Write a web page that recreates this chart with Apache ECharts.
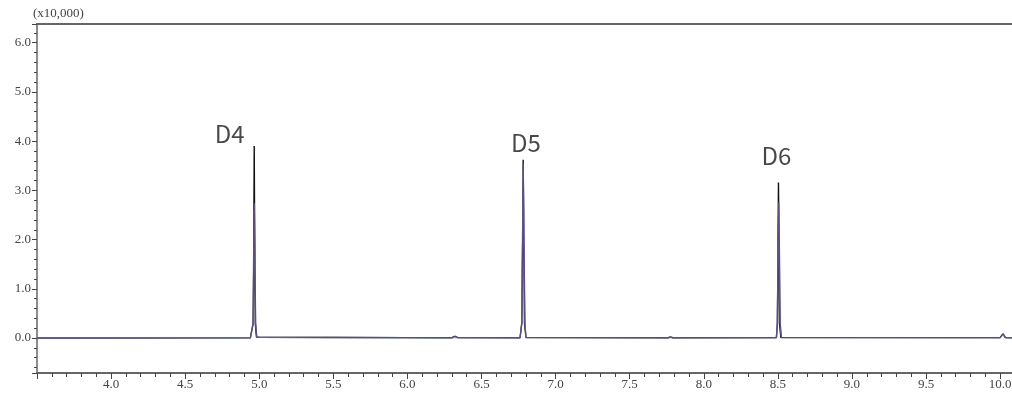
<!DOCTYPE html>
<html><head><meta charset="utf-8">
<script src="https://cdn.jsdelivr.net/npm/echarts@6/dist/echarts.min.js"></script>
<style>html,body{margin:0;padding:0;background:#fff}#c{width:1012px;height:397px}</style>
</head><body><div id="c"></div>
<script>
// Retention time (min) vs intensity (x10,000)
const traceBlack = [
  [3.5,0],[4.94,0.005],[4.953,0.01],[4.959,0.3],[4.963,2.0],[4.966,3.9],[4.969,2.0],[4.973,0.3],[4.981,0.02],[5.0,0.015],
  [5.5,0.012],[6.0,0.008],[6.30,0.006],[6.32,0.03],[6.34,0.008],[6.76,0.006],[6.772,0.3],[6.777,2.0],[6.781,3.62],[6.785,2.0],[6.790,0.3],[6.80,0.01],
  [7.76,0.006],[7.775,0.02],[7.79,0.006],[8.49,0.008],[8.497,0.3],[8.501,2.0],[8.504,3.16],[8.507,2.0],[8.511,0.3],[8.52,0.01],
  [10.0,0.008],[10.018,0.08],[10.035,0.008],[10.08,0.005]
];
const traceBlue = [
  [3.5,0],[4.94,0.004],[4.951,0.01],[4.958,0.3],[4.964,1.8],[4.967,2.6],[4.970,1.8],[4.976,0.3],[4.984,0.02],[5.0,0.012],
  [6.0,0.006],[6.76,0.005],[6.770,0.3],[6.777,2.0],[6.782,3.4],[6.787,2.0],[6.794,0.3],[6.80,0.01],
  [8.49,0.006],[8.495,0.3],[8.502,1.8],[8.506,2.6],[8.510,1.8],[8.516,0.3],[8.524,0.01],
  [10.0,0.006],[10.02,0.06],[10.037,0.006],[10.08,0.004]
];
const tracePurple = [
  [3.5,0],[4.94,0.006],[4.952,0.012],[4.958,0.3],[4.964,2.0],[4.967,2.74],[4.970,2.0],[4.976,0.3],[4.984,0.02],[5.0,0.016],
  [5.5,0.014],[6.0,0.01],[6.30,0.01],[6.32,0.04],[6.34,0.01],[6.76,0.008],[6.771,0.3],[6.778,2.2],[6.782,3.55],[6.786,2.2],[6.793,0.3],[6.80,0.012],
  [7.76,0.008],[7.775,0.025],[7.79,0.008],[8.49,0.01],[8.496,0.3],[8.502,2.0],[8.506,2.76],[8.510,2.0],[8.516,0.3],[8.524,0.012],
  [10.0,0.01],[10.02,0.09],[10.037,0.01],[10.08,0.006]
];
const peakNames = ['D4','D5','D6'];
const peakLabelX = [4.80, 6.80, 8.49];
const peakLabelY = [4.15, 3.96, 3.70];
const xMin = 3.5, xMax = 10.08, xStep = 0.5;
const yMin = -0.71, yMax = 6.38;
const yUnitLabel = '(x10,000)';

const chart = echarts.init(document.getElementById('c'), null, {renderer:'canvas'});
const serif = 'Liberation Serif, DejaVu Serif, serif';
const axisCol = '#666';
const isMult = (v, s) => Math.abs(v/s - Math.round(v/s)) < 1e-6;
chart.setOption({
  animation:false,
  backgroundColor:'#fff',
  grid:{left:37, right:0, top:24, bottom:24, containLabel:false, outerBoundsMode:'none'},
  xAxis:[{
    type:'value', min:xMin, max:xMax, interval:xStep, position:'bottom',
    axisLine:{onZero:false, lineStyle:{color:axisCol, width:2}},
    axisTick:{length:6, lineStyle:{color:'#444'}},
    minorTick:{show:true, splitNumber:5, length:4, lineStyle:{color:'#444'}},
    axisLabel:{margin:5, color:'#444', fontFamily:serif, fontSize:13,
      formatter:v => (isMult(v, xStep) && v > xMin + 1e-6) ? v.toFixed(1) : ''},
    splitLine:{show:false}
  },{
    type:'value', min:xMin, max:xMax, position:'top',
    axisLine:{onZero:false, lineStyle:{color:axisCol, width:2}},
    axisTick:{show:false}, axisLabel:{show:false}, splitLine:{show:false}
  }],
  yAxis:{
    type:'value', min:yMin, max:yMax,
    name:yUnitLabel, nameLocation:'end', nameGap:4,
    nameTextStyle:{align:'left', padding:[0,0,0,-4], color:'#444', fontFamily:serif, fontSize:13},
    axisLine:{show:true, onZero:false, lineStyle:{color:axisCol, width:1.5}},
    axisTick:{length:5, lineStyle:{color:'#444'}},
    minorTick:{show:true, splitNumber:5, length:3, lineStyle:{color:'#444'}},
    axisLabel:{margin:6, color:'#444', fontFamily:serif, fontSize:13,
      formatter:v => isMult(v, 1) ? v.toFixed(1) : ''},
    splitLine:{show:false}
  },
  series:[
    {type:'line', data:traceBlack, symbol:'none', lineStyle:{color:'#111', width:1.4}, z:2},
    {type:'line', data:traceBlue, symbol:'none', lineStyle:{color:'#7fa8dc', width:1}, z:3},
    {type:'line', data:tracePurple, symbol:'none', lineStyle:{color:'#5e4a85', width:1.2}, z:4},
    {type:'scatter', symbolSize:0, z:5,
      data:peakNames.map((n,i)=>({name:n, value:[peakLabelX[i], peakLabelY[i]]})),
      label:{show:true, position:'inside', formatter:p=>p.name, color:'#1a1a1a',
        fontFamily:'Noto Sans CJK JP, Noto Sans, sans-serif', fontSize:24}}
  ]
});
</script></body></html>
